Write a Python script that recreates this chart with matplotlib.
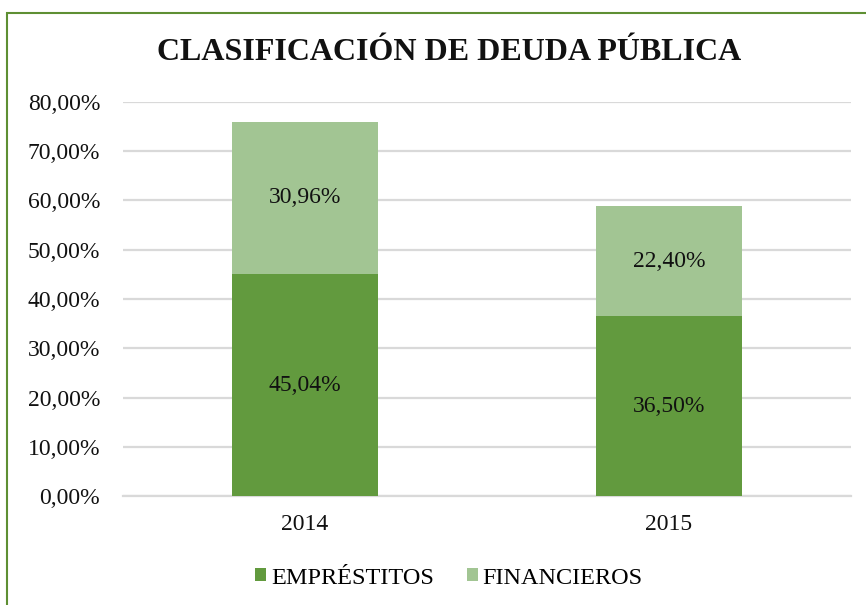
import matplotlib
matplotlib.use("Agg")
import matplotlib.pyplot as plt
from matplotlib.patches import Rectangle
from matplotlib.ticker import FuncFormatter
import numpy as np

plt.rcParams['font.family'] = ['Liberation Serif', 'DejaVu Serif']

years = ["2014", "2015"]
series_names = ["EMPRÉSTITOS", "FINANCIEROS"]
emprestitos = [45.04, 36.50]
financieros = [30.96, 22.40]
colors = ["#629A3E", "#A2C593"]
title = "CLASIFICACIÓN DE DEUDA PÚBLICA"

fs = 17

fig = plt.figure(figsize=(8.66, 6.05), dpi=100)
ax = fig.add_axes([123/866, 1 - 496/605, (851 - 123)/866, (496 - 102)/605])

x = np.arange(len(years))
w = 0.4
b1 = ax.bar(x, emprestitos, w, color=colors[0], label=series_names[0], zorder=3)
b2 = ax.bar(x, financieros, w, bottom=emprestitos, color=colors[1], label=series_names[1], zorder=3)

fmt = lambda v: f"{v:.2f}".replace(".", ",") + "%"
for bars, vals, bots in ((b1, emprestitos, [0, 0]), (b2, financieros, emprestitos)):
    for r, v, b in zip(bars, vals, bots):
        ax.text(r.get_x() + r.get_width()/2, b + v/2, fmt(v), ha='center', va='center',
                fontsize=fs, color='#111111', zorder=4)

ax.set_xlim(-0.5, 1.5)
ax.set_ylim(0, 80)
ax.set_yticks(np.arange(0, 81, 10))
ax.yaxis.set_major_formatter(FuncFormatter(lambda v, p: fmt(v)))
ax.set_xticks(x)
ax.set_xticklabels(years)
ax.tick_params(axis='both', length=0, labelsize=fs, colors='#111111')
ax.tick_params(axis='y', pad=16.5)
ax.tick_params(axis='x', pad=13)
ax.grid(axis='y', color='#D9D9D9', linewidth=1.6, zorder=0)
ax.set_axisbelow(True)
for s in ('top', 'right', 'left'):
    ax.spines[s].set_visible(False)
ax.spines['bottom'].set_color('#D9D9D9')
ax.spines['bottom'].set_linewidth(1.6)

fig.text(449/866, 1 - 53/605, title, ha='center', va='center', fontsize=23,
         fontweight='bold', color='#111111')

fig.legend(handles=[b1, b2], labels=series_names, loc='center',
           bbox_to_anchor=(449/866, 1 - 578/605), ncol=2, frameon=False, fontsize=17.5,
           handlelength=0.45, handleheight=0.45, handletextpad=0.2, columnspacing=1.35,
           borderaxespad=0)

# outer chart border (right/bottom edges fall outside the crop)
fig.add_artist(Rectangle((7.5/866, -0.05), 1.2, 1 - 12.5/605 + 0.05, transform=fig.transFigure,
                         fill=False, edgecolor='#5E8F33', linewidth=1.5))

fig.savefig("out.png", dpi=100)
